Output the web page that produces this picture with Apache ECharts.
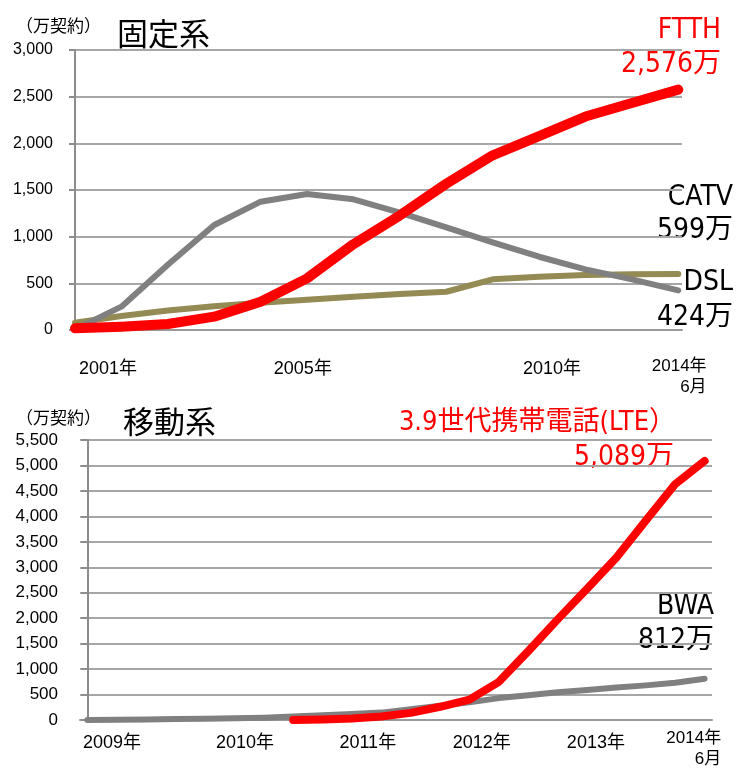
<!DOCTYPE html>
<html>
<head>
<meta charset="utf-8">
<script src="https://cdn.jsdelivr.net/npm/echarts@6/dist/echarts.min.js"></script>
<style>
  html, body { margin: 0; padding: 0; background: #fff; }
  #chart { width: 737px; height: 769px; }
</style>
</head>
<body>
<div id="chart"></div>
<script>
// 固定系 (年度末、最後は2014年6月)
const fixedYears = ['2001', '2002', '2003', '2004', '2005', '2006', '2007', '2008', '2009', '2010', '2011', '2012', '2013', '2014.6'];
const ftth = [18, 36, 64, 143, 303, 553, 920, 1228, 1567, 1872, 2078, 2287, 2432, 2576];
const dsl = [7, 250, 700, 1125, 1375, 1457, 1400, 1257, 1100, 939, 785, 650, 543, 424];
const catv = [78, 150, 210, 255, 292, 325, 355, 385, 410, 543, 571, 590, 598, 599];
const fixedTicks = ['2001年', '2005年', '2010年', '2014年\n6月'];
const fixedTickAt = [0.71, 4.91, 10.28, 13.02];

// 移動系 (四半期末)
const mobileQuarters = ['2009.3', '2009.6', '2009.9', '2009.12', '2010.3', '2010.6', '2010.9', '2010.12',
  '2011.3', '2011.6', '2011.9', '2011.12', '2012.3', '2012.6', '2012.9', '2012.12',
  '2013.3', '2013.6', '2013.9', '2013.12', '2014.3', '2014.6'];
const lte = [null, null, null, null, null, null, null, 2, 12, 30, 70, 140, 260, 400, 750, 1353, 1976, 2579, 3193, 3918, 4635, 5089];
const bwa = [0, 5, 10, 18, 25, 33, 45, 67, 95, 118, 145, 212, 278, 346, 430, 485, 545, 590, 640, 680, 730, 812];
const mobileTicks = ['2009年', '2010年', '2011年', '2012年', '2013年', '2014年\n6月'];
const mobileTickAt = [0.84, 5.36, 9.54, 13.42, 17.3, 20.63];

const RED = '#ff0000', GREY = '#808080', OLIVE = '#948a54';
const latin = '"Liberation Sans", "Noto Sans CJK JP", sans-serif';
const jp = '"Noto Sans CJK JP", sans-serif';
const narrow = '"DejaVu Sans Condensed", "Noto Sans CJK JP", sans-serif';

const fmt = v => v.toLocaleString('en-US');
const pairs = arr => arr.map((v, i) => [i, v]);

function xLabelFormatter(ticks, at) {
  return v => {
    const t = ticks[at.indexOf(v)] || '';
    if (t.indexOf('\n') >= 0) {
      const [a, b] = t.split('\n');
      return '{b|' + a + '}\n{c|' + b + '}';
    }
    return '{a|' + t + '}';
  };
}

function xAxisOf(grid, max, ticks, at, margin, pad) {
  return {
    gridIndex: grid, type: 'value', min: 0, max: max,
    axisLine: { lineStyle: { color: '#999', width: 2 } },
    axisTick: { show: false },
    splitLine: { show: false },
    axisLabel: {
      customValues: at,
      margin: margin,
      formatter: xLabelFormatter(ticks, at),
      rich: {
        a: { fontSize: 18, fontFamily: latin, color: '#000', padding: [pad, 0, 0, 0] },
        b: { fontSize: 17, fontFamily: latin, color: '#000', lineHeight: 21 },
        c: { fontSize: 17, fontFamily: latin, color: '#000', lineHeight: 21, align: 'right' }
      }
    }
  };
}

function yAxisOf(grid, max, size) {
  return {
    gridIndex: grid, type: 'value', min: 0, max: max, interval: 500,
    axisLine: { show: true, lineStyle: { color: '#8c8c8c', width: 2 } },
    axisTick: { show: true, length: 6, lineStyle: { color: '#8c8c8c', width: 2 } },
    splitLine: { lineStyle: { color: '#a6a6a6', width: 2 } },
    axisLabel: { fontSize: size, fontFamily: latin, color: '#000', margin: 22, formatter: fmt }
  };
}

function lineOf(axis, data, color, width, z) {
  return {
    type: 'line', xAxisIndex: axis, yAxisIndex: axis, data: data,
    showSymbol: false, symbol: 'none', z: z, connectNulls: false,
    lineStyle: { color: color, width: width, cap: 'round', join: 'round' }
  };
}

function txt(x, y, text, font, color, align) {
  return {
    type: 'text', x: x, y: y,
    style: { text: text, font: font, fill: color, align: align, textAlign: align, verticalAlign: 'middle', textVerticalAlign: 'middle' }
  };
}

const mobileX = mobileQuarters.map((q, i) => i);
const lteData = lte.map((v, i) => [mobileX[i], v]);
const bwaData = bwa.map((v, i) => [mobileX[i], v]);

const chart = echarts.init(document.getElementById('chart'));
chart.setOption({
  animation: false,
  backgroundColor: '#fff',
  grid: [
    { left: 75, top: 50, width: 607, height: 280 },
    { left: 80, top: 440, width: 632, height: 280 }
  ],
  xAxis: [
    xAxisOf(0, 13.08, fixedTicks, fixedTickAt, 26, 4),
    Object.assign(xAxisOf(1, 21.25, mobileTicks, mobileTickAt, 8, 6), { min: -0.25 })
  ],
  yAxis: [yAxisOf(0, 3000, 16), yAxisOf(1, 5500, 17)],
  series: [
    lineOf(0, pairs(catv), OLIVE, 6, 2),
    lineOf(0, pairs(dsl), GREY, 6, 3),
    lineOf(0, pairs(ftth), RED, 10, 4),
    lineOf(1, bwaData, GREY, 6, 3),
    lineOf(1, lteData, RED, 8, 4)
  ],
  graphic: [
    txt(16, 26, '（万契約）', '17px ' + jp, '#000', 'left'),
    txt(117, 33, '固定系', '31px ' + jp, '#000', 'left'),
    txt(721, 31, 'FTTH', '28px ' + narrow, RED, 'right'),
    txt(721, 65, fmt(ftth[ftth.length - 1]) + '万', '28px ' + narrow, RED, 'right'),
    txt(733, 198, 'CATV', '28px ' + narrow, '#000', 'right'),
    txt(733, 231, fmt(catv[catv.length - 1]) + '万', '28px ' + narrow, '#000', 'right'),
    txt(733, 283, 'DSL', '28px ' + narrow, '#000', 'right'),
    txt(733, 318, fmt(dsl[dsl.length - 1]) + '万', '28px ' + narrow, '#000', 'right'),

    txt(16, 418, '（万契約）', '17px ' + jp, '#000', 'left'),
    txt(123, 421, '移動系', '31px ' + jp, '#000', 'left'),
    txt(676, 423, '3.9世代携帯電話(LTE）', '27px ' + narrow, RED, 'right'),
    txt(674, 458, fmt(lte[lte.length - 1]) + '万', '28px ' + narrow, RED, 'right'),
    txt(714, 607, 'BWA', '28px ' + narrow, '#000', 'right'),
    txt(714, 641, fmt(bwa[bwa.length - 1]) + '万', '28px ' + narrow, '#000', 'right')
  ]
});
</script>
</body>
</html>
